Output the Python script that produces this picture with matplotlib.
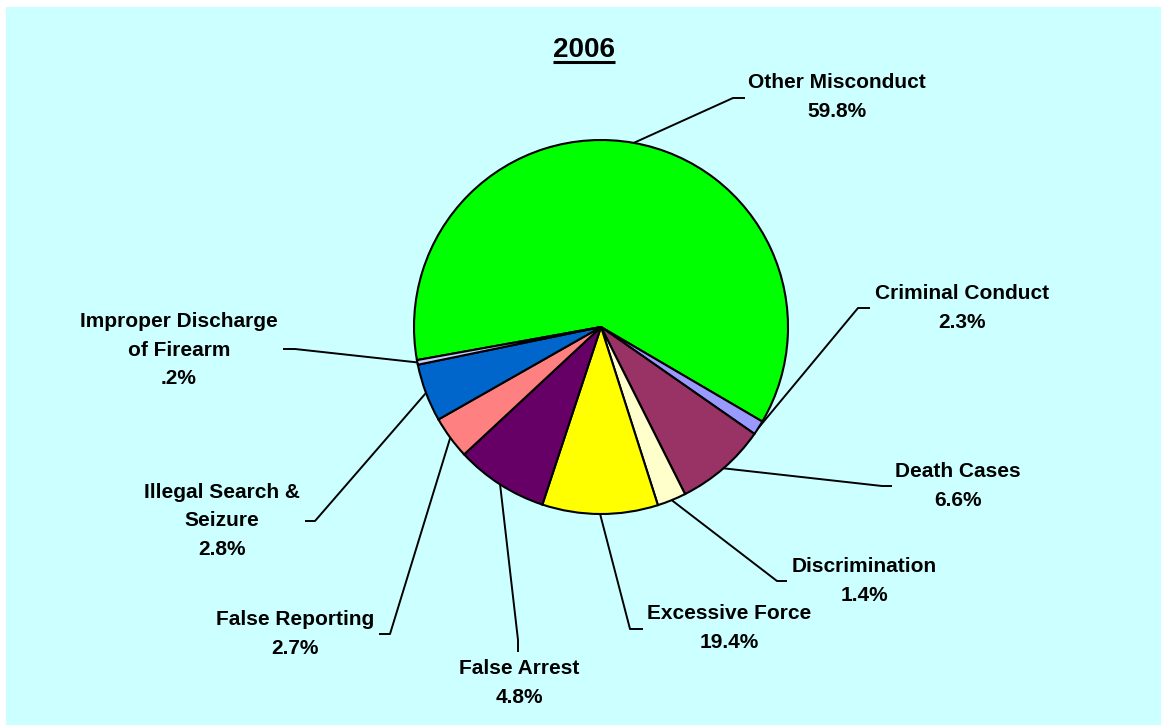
import matplotlib
matplotlib.use('Agg')
import matplotlib.pyplot as plt
from matplotlib.patches import Rectangle
import numpy as np

plt.rcParams['font.family'] = ['Liberation Sans', 'DejaVu Sans']

# categories in drawing order (clockwise from the big green slice)
categories = ['Other Misconduct', 'Criminal Conduct', 'Death Cases', 'Discrimination',
              'Excessive Force', 'False Arrest', 'False Reporting',
              'Illegal Search &\nSeizure', 'Improper Discharge\nof Firearm']
pct_text = ['59.8%', '2.3%', '6.6%', '1.4%', '19.4%', '4.8%', '2.7%', '2.8%', '.2%']
# slice sizes as they are drawn in the picture (not quite the printed numbers)
slice_share = [61.3, 1.25, 7.9, 2.5, 10.0, 8.0, 3.7, 5.0, 0.4]
colors = ['#00FF00', '#9999FF', '#993366', '#FFFFCC', '#FFFF00',
          '#660066', '#FF8080', '#0066CC', '#CCCCFF']

W, H = 1161, 725
center = (601, H - 327)
radius = 187

# label layout in pixels from top-left: leader elbow, end of short tick, text centre
elbow = [(733, 98), (858, 308), (882, 486), (777, 581), (630, 629),
         (518, 640), (390, 634), (315, 521), (295, 349)]
tick_end = [(745, 98), (870, 308), (892, 486), (787, 581), (643, 629),
            (518, 652), (379, 634), (305, 521), (283, 349)]
text_pos = [(837, 97), (962, 308), (958, 486), (864, 581), (729, 628),
            (519, 683), (295, 634), (222, 521), (179, 350)]

fig = plt.figure(figsize=(W / 100, H / 100), dpi=100)
ax = fig.add_axes([0, 0, 1, 1])
ax.add_patch(Rectangle((6, 0), W - 6, H - 7, facecolor='#CCFFFF', edgecolor='none', zorder=0))

wedges, _ = ax.pie(slice_share, colors=colors, startangle=190.2, counterclock=False,
                   center=center, radius=radius,
                   wedgeprops=dict(edgecolor='black', linewidth=1.5))

for i, w in enumerate(wedges):
    mid = np.deg2rad((w.theta1 + w.theta2) / 2)
    x0 = center[0] + radius * np.cos(mid)
    y0 = center[1] + radius * np.sin(mid)
    ax.plot([x0, elbow[i][0], tick_end[i][0]], [y0, H - elbow[i][1], H - tick_end[i][1]],
            color='black', lw=1.4, solid_capstyle='butt', zorder=3)
    ax.text(text_pos[i][0], H - text_pos[i][1], categories[i] + '\n' + pct_text[i],
            ha='center', va='center', multialignment='center',
            fontsize=15, fontweight='bold', linespacing=1.62)

title = ax.text(584, H - 57, '2006', ha='center', va='baseline', fontsize=20, fontweight='bold')

ax.set_xlim(0, W)
ax.set_ylim(0, H)
ax.axis('off')

# underline the title
fig.canvas.draw()
bb = title.get_window_extent().transformed(ax.transData.inverted())
ax.plot([bb.x0, bb.x1], [H - 62, H - 62], color='black', lw=2.2, solid_capstyle='butt')

fig.savefig('out.png', dpi=100, facecolor='white')
